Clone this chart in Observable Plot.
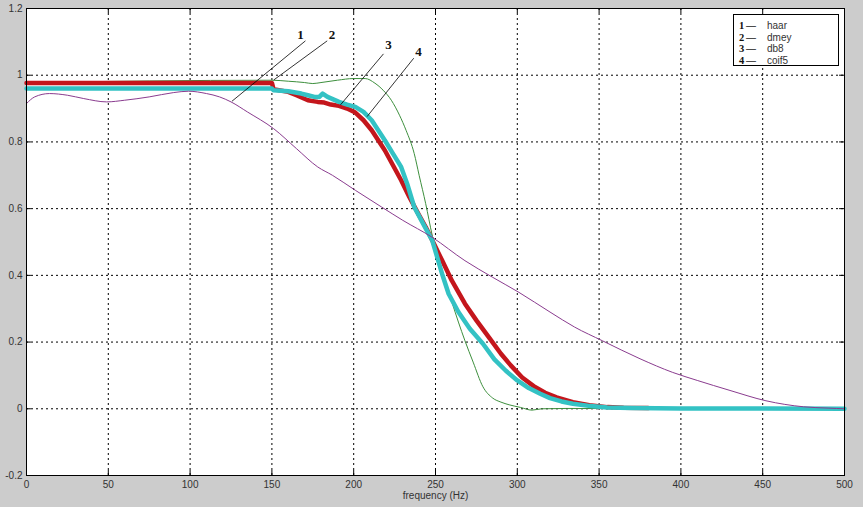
<!DOCTYPE html>
<html><head><meta charset="utf-8">
<script src="https://cdn.jsdelivr.net/npm/d3@7"></script>
<script src="https://cdn.jsdelivr.net/npm/@observablehq/plot@0.6"></script>
<style>
body{margin:0;background:#cccccc;}
#wrap{position:relative;width:863px;height:507px;overflow:hidden;}
#legend{position:absolute;left:733px;top:14px;width:106px;height:52px;background:#fff;border:1px solid #000;box-sizing:border-box;padding:3px 0 0 5px;}
#legend .row{height:11.5px;line-height:11.5px;white-space:nowrap;overflow:visible;}
#legend .n{font-family:"Liberation Serif","DejaVu Serif",serif;font-weight:bold;font-size:10.5px;line-height:10px;color:#111;display:inline-block;width:7px;}
#legend .d{font-family:"Liberation Sans",Arial,sans-serif;font-size:10px;line-height:10px;color:#222;display:inline-block;width:21px;}
#legend .t{font-family:"Liberation Sans",Arial,sans-serif;font-size:10px;line-height:10px;color:#333;}
</style></head>
<body>
<div id="wrap"></div>
<script>
// Tick values and labels
const xTicks = [0, 50, 100, 150, 200, 250, 300, 350, 400, 450, 500];
const yTicks = [-0.2, 0, 0.2, 0.4, 0.6, 0.8, 1, 1.2];
const yTickLabels = ["-0.2", "0", "0.2", "0.4", "0.6", "0.8", "1", "1.2"];

// Legend
const legendNums = ["1", "2", "3", "4"];
const legendNames = ["haar", "dmey", "db8", "coif5"];

// Series 1: haar (purple)
const haarF = [0, 5, 14, 25, 35, 49, 60, 75, 90, 99, 110, 118, 125, 135, 151, 165, 178, 187, 201, 217, 230, 248, 268, 285, 301, 320, 335, 352, 375, 395, 410, 430, 452, 475, 490, 500];
const haarV = [0.915, 0.935, 0.945, 0.94, 0.93, 0.92, 0.925, 0.935, 0.948, 0.952, 0.945, 0.935, 0.92, 0.89, 0.84, 0.78, 0.725, 0.70, 0.655, 0.605, 0.565, 0.514, 0.444, 0.394, 0.349, 0.29, 0.245, 0.204, 0.15, 0.109, 0.085, 0.055, 0.024, 0.006, 0.002, 0];

// Series 2: dmey (green)
const dmeyF = [0, 150, 160, 170, 175, 180, 190, 200, 207, 213, 218, 223, 228, 232, 237, 240, 244, 248, 252, 256, 260, 264, 268, 273, 279, 285, 290, 295, 302, 309, 315, 330, 400, 500];
const dmeyV = [0.978, 0.985, 0.982, 0.978, 0.975, 0.978, 0.985, 0.99, 0.99, 0.976, 0.955, 0.925, 0.88, 0.835, 0.765, 0.70, 0.615, 0.52, 0.444, 0.38, 0.32, 0.26, 0.204, 0.14, 0.066, 0.032, 0.02, 0.012, 0.004, -0.004, 0, 0.001, 0, 0];

// Series 3: db8 (red)
const db8F = [0, 150, 151, 160, 165, 172, 178, 182, 186, 191, 196, 201, 206, 211, 215, 219, 224, 229, 234, 240, 244, 248, 254, 260, 268, 275, 283, 290, 296, 303, 310, 317, 324, 334, 344, 355, 365, 380];
const db8V = [0.977, 0.977, 0.958, 0.95, 0.94, 0.925, 0.92, 0.918, 0.912, 0.908, 0.9, 0.888, 0.865, 0.835, 0.805, 0.775, 0.73, 0.685, 0.635, 0.58, 0.545, 0.505, 0.445, 0.384, 0.315, 0.265, 0.212, 0.165, 0.13, 0.094, 0.068, 0.048, 0.034, 0.02, 0.011, 0.005, 0.003, 0.002];

// Series 4: coif5 (cyan)
const coif5F = [0, 150, 151, 160, 168, 172, 176, 179, 181, 184, 191, 196, 201, 206, 211, 215, 219, 224, 229, 233, 237, 243, 248, 254, 258, 264, 271, 279, 286, 293, 300, 307, 314, 320, 327, 334, 345, 355, 370, 400, 500];
const coif5V = [0.96, 0.96, 0.955, 0.952, 0.945, 0.94, 0.935, 0.935, 0.945, 0.935, 0.92, 0.912, 0.905, 0.89, 0.865, 0.835, 0.805, 0.765, 0.725, 0.67, 0.605, 0.55, 0.505, 0.405, 0.345, 0.29, 0.24, 0.195, 0.148, 0.114, 0.085, 0.062, 0.045, 0.032, 0.022, 0.015, 0.008, 0.004, 0.002, 0.001, 0];

// Curve annotations (numbers with leader lines)
const annoText = ["1", "2", "3", "4"];
const annoX = [167.5, 186.8, 221.3, 239.6];
const annoY = [1.12, 1.12, 1.09, 1.071];
const leadX1 = [170.5, 183.8, 218.2, 236.7];
const leadY1 = [1.103, 1.103, 1.064, 1.051];
const leadX2 = [125.6, 151.2, 191.9, 208.2];
const leadY2 = [0.922, 0.986, 0.911, 0.876];

const toRows = (F, V) => F.map((f, i) => ({f, v: V[i]}));
const haar = toRows(haarF, haarV);
const dmey = toRows(dmeyF, dmeyV);
const db8 = toRows(db8F, db8V);
const coif5 = toRows(coif5F, coif5V);
const anno = annoText.map((t, i) => ({t, x: annoX[i], y: annoY[i], x1: leadX1[i], y1: leadY1[i], x2: leadX2[i], y2: leadY2[i]}));

const innerX = xTicks.filter(d => d > 0 && d < 500);
const innerY = yTicks.filter(d => d > -0.2 && d < 1.2);

const chart = Plot.plot({
  width: 863, height: 507,
  marginLeft: 26, marginRight: 19, marginTop: 8, marginBottom: 32,
  style: {background: "transparent", fontFamily: "'Liberation Sans', Arial, sans-serif", fontSize: "10px", color: "#333"},
  x: {domain: [0, 500]},
  y: {domain: [-0.2, 1.2]},
  marks: [
    Plot.frame({fill: "white"}),
    Plot.gridX(innerX, {stroke: "#000", strokeOpacity: 1, strokeDasharray: "2,3"}),
    Plot.gridY(innerY, {stroke: "#000", strokeOpacity: 1, strokeDasharray: "2,3"}),
    Plot.ruleX(xTicks, {x: d => d, y1: -0.2, y2: -0.185, stroke: "#000"}),
    Plot.ruleX(xTicks, {x: d => d, y1: 1.2, y2: 1.185, stroke: "#000"}),
    Plot.ruleY(yTicks, {y: d => d, x1: 0, x2: 3, stroke: "#000"}),
    Plot.ruleY(yTicks, {y: d => d, x1: 500, x2: 497, stroke: "#000"}),
    Plot.line(dmey, {x: "f", y: "v", stroke: "#3d8f3d", strokeWidth: 1, curve: "monotone-x"}),
    Plot.line(db8, {x: "f", y: "v", stroke: "#c4161c", strokeWidth: 4.5, curve: "linear"}),
    Plot.line(coif5, {x: "f", y: "v", stroke: "#33c2c4", strokeWidth: 4.5, curve: "linear"}),
    Plot.line(haar, {x: "f", y: "v", stroke: "#8a3c8f", strokeWidth: 1, curve: "monotone-x"}),
    Plot.link(anno, {x1: "x1", y1: "y1", x2: "x2", y2: "y2", stroke: "#000", strokeWidth: 0.8}),
    Plot.text(anno, {x: "x", y: "y", text: "t", fontFamily: "'Liberation Serif', 'DejaVu Serif', serif", fontWeight: "bold", fontSize: 13, fill: "#111"}),
    Plot.axisX(xTicks, {tickSize: 0, tickPadding: 5, tickFormat: d => String(d), label: null, fill: "#333"}),
    Plot.axisY(yTicks, {tickSize: 0, tickPadding: 4, tickFormat: d => yTickLabels[yTicks.indexOf(d)], label: null, fill: "#333"}),
    Plot.text(["frequency (Hz)"], {frameAnchor: "bottom", dy: 23, text: d => d, fontSize: 10, fill: "#333"}),
    Plot.frame({stroke: "#000"})
  ]
});

const wrap = document.getElementById("wrap");
wrap.appendChild(chart);
const legend = document.createElement("div");
legend.id = "legend";
legend.innerHTML = legendNums.map((n, i) =>
  `<div class="row"><span class="n">${n}</span><span class="d">—</span><span class="t">${legendNames[i]}</span></div>`
).join("");
wrap.appendChild(legend);
</script>
</body></html>
